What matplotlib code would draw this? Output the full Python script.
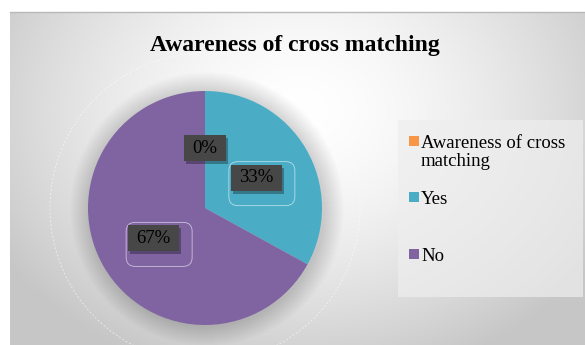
import matplotlib.pyplot as plt
import numpy as np
from matplotlib.patches import Circle, Rectangle, FancyBboxPatch

categories = ['Awareness of cross\nmatching', 'Yes', 'No']
values = [0, 33, 67]
colors = ['#F79646', '#4BACC6', '#8064A2']
title = 'Awareness of cross matching'

plt.rcParams['font.family'] = ['Liberation Serif', 'DejaVu Serif']

W, H = 585, 345
fig = plt.figure(figsize=(W / 100, H / 100), dpi=100)
ax = fig.add_axes([0, 0, 1, 1])

# panel background with radial gradient
px0, py0, px1, py1 = 10, 0, W, H - 12
gx, gy = np.meshgrid(np.linspace(px0, px1, 300), np.linspace(py0, py1, 200))
d = np.sqrt(((gx - 300) / 330) ** 2 + ((gy - 235) / 260) ** 2)
g = np.clip(1.0 - 0.2 * d ** 1.6, 0.78, 1.0)
ax.imshow(np.dstack([g, g, g]), extent=[px0, px1, py0, py1], origin='lower',
          aspect='auto', zorder=0, interpolation='bilinear')
ax.plot([px0, px1], [py1, py1], color='#b8b8b8', lw=1, zorder=1)

cx, cy, R = 205, 137, 117

# dashed faint circle
ax.add_patch(Circle((cx, cy), 155, fill=False, ec='white', lw=0.7,
                    ls=(0, (2, 2)), alpha=0.55, zorder=1))
# soft shadow around the pie
for i in range(20):
    ax.add_patch(Circle((cx + 2, cy - 1), R + 20 - i, fc='black', ec='none',
                        alpha=0.008, zorder=1))

wedges, texts, autotexts = ax.pie(
    values, colors=colors, startangle=90, counterclock=False,
    center=(cx, cy), radius=R, autopct='%1.0f%%', pctdistance=0.51,
    textprops=dict(fontsize=13.5, color='black'),
    wedgeprops=dict(linewidth=0), frame=True)
ax.set_xlim(0, W)
ax.set_ylim(0, H)
ax.axis('off')

bw = {'0%': 42, '33%': 51, '67%': 51}
bh = 26
for t in autotexts:
    x, y = t.get_position()
    w = bw[t.get_text()]
    # drop shadow
    ax.add_patch(FancyBboxPatch((x - w / 2 + 2, y - bh / 2 - 3), w, bh,
                                boxstyle='square,pad=0', fc='black', ec='none',
                                alpha=0.3, zorder=4))
    ax.add_patch(FancyBboxPatch((x - w / 2, y - bh / 2), w, bh,
                                boxstyle='square,pad=0', fc='#474747', ec='none',
                                zorder=4.5))
    t.set_zorder(5)
    if t.get_text() != '0%':
        ax.add_patch(FancyBboxPatch((x - w / 2 - 2, y - bh / 2 - 15), w + 15, bh + 18,
                                    boxstyle='round,pad=0,rounding_size=9',
                                    fc='none', ec='white', lw=0.6, alpha=0.6,
                                    zorder=3))

# title
ax.text(295, H - 45, title, fontsize=17, fontweight='bold', ha='center',
        va='center', zorder=6)

# legend box
ax.add_patch(Rectangle((398, H - 297), W - 2 - 398, 177, fc='#eeeeee', ec='none',
                       alpha=0.7, zorder=2))
legend_y = [H - 141, H - 197, H - 254]
for lab, col, ly in zip(categories, colors, legend_y):
    ax.add_patch(Rectangle((409, ly - 5), 10, 10, fc=col, ec='none', zorder=3))
    ax.text(421, ly + 6, lab, fontsize=13.5, ha='left', va='top', zorder=3,
            linespacing=1.1)

fig.savefig('out.png', dpi=100)
